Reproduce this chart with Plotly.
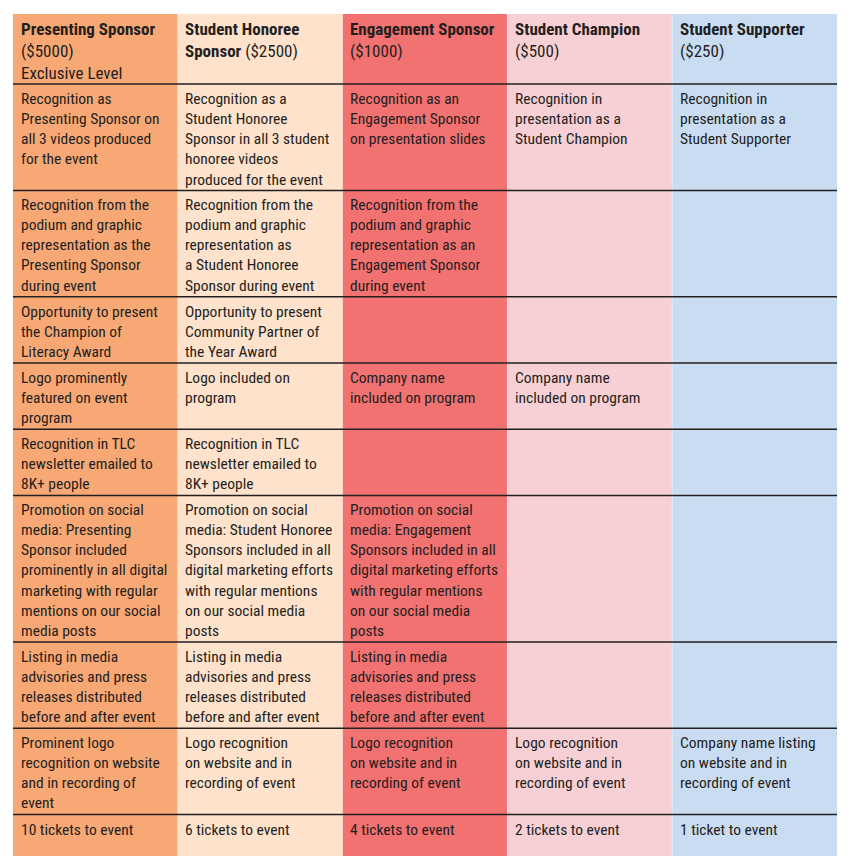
import plotly.graph_objects as go

# ---------------- data ----------------
header_titles = ["Presenting Sponsor", "Student Honoree<br>Sponsor", "Engagement Sponsor",
                 "Student Champion", "Student Supporter"]
header_prices = ["($5000)", "($2500)", "($1000)", "($500)", "($250)"]
header_notes = ["Exclusive Level", "", "", "", ""]

row1 = ["Recognition as<br>Presenting Sponsor on<br>all 3 videos produced<br>for the event",
        "Recognition as a<br>Student Honoree<br>Sponsor in all 3 student<br>honoree videos<br>produced for the event",
        "Recognition as an<br>Engagement Sponsor<br>on presentation slides",
        "Recognition in<br>presentation as a<br>Student Champion",
        "Recognition in<br>presentation as a<br>Student Supporter"]
row2 = ["Recognition from the<br>podium and graphic<br>representation as the<br>Presenting Sponsor<br>during event",
        "Recognition from the<br>podium and graphic<br>representation as<br>a Student Honoree<br>Sponsor during event",
        "Recognition from the<br>podium and graphic<br>representation as an<br>Engagement Sponsor<br>during event",
        "", ""]
row3 = ["Opportunity to present<br>the Champion of<br>Literacy Award",
        "Opportunity to present<br>Community Partner of<br>the Year Award",
        "", "", ""]
row4 = ["Logo prominently<br>featured on event<br>program",
        "Logo included on<br>program",
        "Company name<br>included on program",
        "Company name<br>included on program",
        ""]
row5 = ["Recognition in TLC<br>newsletter emailed to<br>8K+ people",
        "Recognition in TLC<br>newsletter emailed to<br>8K+ people",
        "", "", ""]
row6 = ["Promotion on social<br>media: Presenting<br>Sponsor included<br>prominently in all digital<br>marketing with regular<br>mentions on our social<br>media posts",
        "Promotion on social<br>media: Student Honoree<br>Sponsors included in all<br>digital marketing efforts<br>with regular mentions<br>on our social media<br>posts",
        "Promotion on social<br>media: Engagement<br>Sponsors included in all<br>digital marketing efforts<br>with regular mentions<br>on our social media<br>posts",
        "", ""]
row7 = ["Listing in media<br>advisories and press<br>releases distributed<br>before and after event",
        "Listing in media<br>advisories and press<br>releases distributed<br>before and after event",
        "Listing in media<br>advisories and press<br>releases distributed<br>before and after event",
        "", ""]
row8 = ["Prominent logo<br>recognition on website<br>and in recording of<br>event",
        "Logo recognition<br>on website and in<br>recording of event",
        "Logo recognition<br>on website and in<br>recording of event",
        "Logo recognition<br>on website and in<br>recording of event",
        "Company name listing<br>on website and in<br>recording of event"]
row9 = ["10 tickets to event", "6 tickets to event", "4 tickets to event",
        "2 tickets to event", "1 ticket to event"]

body_rows = [row1, row2, row3, row4, row5, row6, row7, row8, row9]

# ---------------- style ----------------
col_colors = ["#F7A875", "#FEE2CB", "#F27171", "#F7D0D5", "#C9DCF2"]
text_color = "#231F20"
FONT = "Roboto Condensed, Liberation Sans Narrow, Arial Narrow, DejaVu Sans Condensed, sans-serif"
FONT_SIZE = 15.5
HEAD_SIZE = 17
LINE_H = 20.1
HEAD_LINE_H = 22.0
PAD = 5.9
HEADER_PAD = 4
LAST_MIN = 41.4

# header cells
header_cells = []
for t, p, n in zip(header_titles, header_prices, header_notes):
    if "<br>" in t:
        a, b = t.split("<br>")
        s = f"<b>{a}</b><br><b>{b}</b> {p}"
    else:
        s = f"<b>{t}</b><br>{p}"
    if n:
        s += f"<br>{n}"
    header_cells.append(s)

all_rows = [header_cells] + body_rows


def nlines(s):
    return s.count("<br>") + 1 if s else 0


heights = []
for i, r in enumerate(all_rows):
    n = max(nlines(c) for c in r)
    if i == 0:
        h = n * HEAD_LINE_H + HEADER_PAD
    else:
        h = n * LINE_H + PAD
    if i == len(all_rows) - 1:
        h = max(h, LAST_MIN)
    heights.append(h)

tops = [0]
for h in heights:
    tops.append(tops[-1] + h)
total = tops[-1]

ncol = len(col_colors)
shapes = []
annotations = []
for j, c in enumerate(col_colors):
    shapes.append(dict(type="rect", xref="x", yref="y", x0=j, x1=j + 1, y0=0, y1=total,
                       fillcolor=c, line=dict(width=0), layer="below"))
for j in range(1, ncol):
    shapes.append(dict(type="line", xref="x", yref="y", x0=j, x1=j, y0=0, y1=total,
                       line=dict(color="rgba(255,255,255,0.35)", width=1)))
for i in range(1, len(all_rows)):
    shapes.append(dict(type="line", xref="x", yref="y", x0=0, x1=ncol, y0=tops[i], y1=tops[i],
                       line=dict(color=text_color, width=1.5)))

for i, r in enumerate(all_rows):
    for j, s in enumerate(r):
        if not s:
            continue
        head = i == 0
        annotations.append(dict(xref="x", yref="y", x=j, y=tops[i], text=s, showarrow=False,
                                xanchor="left", yanchor="top", align="left",
                                xshift=5.5, yshift=-3 if head else -4,
                                font=dict(family=FONT, size=HEAD_SIZE if head else FONT_SIZE,
                                          color=text_color)))

TOP = 14
LEFT = 13.3
RIGHT = 850 - 837.3
fig = go.Figure()
fig.add_trace(go.Scatter(x=[0, ncol], y=[0, total], mode="markers",
                         marker=dict(opacity=0), hoverinfo="skip", showlegend=False))
fig.update_layout(
    width=850, height=868,
    margin=dict(l=LEFT, r=RIGHT, t=TOP, b=868 - TOP - total),
    paper_bgcolor="white", plot_bgcolor="white",
    xaxis=dict(range=[0, ncol], visible=False, fixedrange=True),
    yaxis=dict(range=[total, 0], visible=False, fixedrange=True),
    shapes=shapes, annotations=annotations, showlegend=False,
)
fig.write_html("out.html", config={"displayModeBar": False},
               post_script="document.body.style.margin='0';")
